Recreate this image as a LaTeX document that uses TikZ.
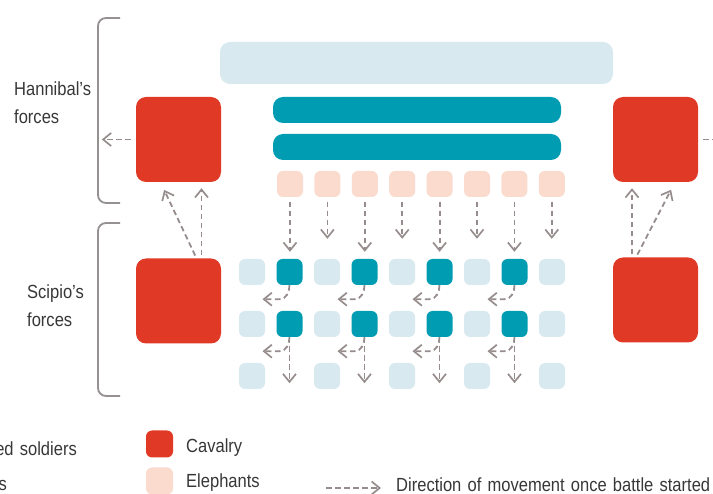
\documentclass[tikz,border=0pt]{standalone}
\usepackage{fontspec}
\setmainfont{Liberation Sans}[FakeStretch=0.87, WordSpace=1.35]
\usetikzlibrary{arrows.meta}

\definecolor{cavred}{RGB}{224,58,38}
\definecolor{infteal}{RGB}{0,157,178}
\definecolor{paleblue}{RGB}{217,233,240}
\definecolor{elepink}{RGB}{250,219,205}
\definecolor{movegray}{RGB}{150,140,140}
\definecolor{bracegray}{RGB}{150,145,145}
\definecolor{ink}{RGB}{55,55,55}

\tikzset{
  lbl/.style={font=\fontsize{19pt}{22pt}\selectfont, text=ink, inner sep=0pt},
  unit/.style={rectangle, rounded corners=6pt, minimum size=26pt, inner sep=0pt, draw=none},
  cav/.style={rectangle, rounded corners=10pt, minimum width=85pt, minimum height=85pt,
    inner sep=0pt, fill=cavred},
  bar/.style={rectangle, rounded corners=10pt, inner sep=0pt},
  move/.style={draw=movegray, line width=1.8pt, dash pattern=on 5.5pt off 3.5pt,
    -{Straight Barb[length=8pt,width=13pt,line width=1.7pt]}},
  brace/.style={draw=bracegray, line width=1.8pt, rounded corners=8pt},
}

\begin{document}
\begin{tikzpicture}[x=1pt,y=-1pt]
\useasboundingbox (0,0) rectangle (713,494);
\clip (0,0) rectangle (713,494);

% brackets grouping the two armies
\draw[brace] (120,18) -- (98,18) -- (98,203) -- (120,203);
\draw[brace] (120,223) -- (98,223) -- (98,396) -- (120,396);
\node[lbl, anchor=base west] (hname) at (14,96) {Hannibal’s};
\node[lbl, anchor=base west] (hforces) at (14,124) {forces};
\node[lbl, anchor=base west] (sname) at (27,299) {Scipio’s};
\node[lbl, anchor=base west] (sforces) at (27,327) {forces};

% Hannibal's lines
\node[bar, fill=paleblue, minimum width=393pt, minimum height=42pt] (rear) at (416.5,63) {};
\node[bar, fill=infteal, minimum width=288pt, minimum height=26pt] (line1) at (417,110) {};
\node[bar, fill=infteal, minimum width=288pt, minimum height=26pt] (line2) at (417,147) {};
\node[cav] (hl) at (178.5,139.5) {};
\node[cav] (hr) at (655.5,139.5) {};
\foreach \i in {0,...,7}
  \node[unit, fill=elepink] (e\i) at ({290+37.4*\i},184) {};

% Scipio's maniples
\node[cav] (sl) at (178.5,301) {};
\node[cav] (sr) at (655.5,300) {};
\foreach \j in {0,...,8} {
  \ifodd\j
    \node[unit, fill=infteal] (a\j) at ({252+37.5*\j},272) {};
    \node[unit, fill=infteal] (b\j) at ({252+37.5*\j},324) {};
  \else
    \node[unit, fill=paleblue] (a\j) at ({252+37.5*\j},272) {};
    \node[unit, fill=paleblue] (b\j) at ({252+37.5*\j},324) {};
    \node[unit, fill=paleblue] (c\j) at ({252+37.5*\j},376) {};
  \fi
}

% elephants charging
\foreach \i in {0,...,7} {
  \pgfmathtruncatemacro{\j}{\i+1}
  \ifodd\j
    \draw[move, shorten <=4.5pt, shorten >=7pt] (e\i.south) -- (e\i.south |- a\j.north);
  \else
    \draw[move, shorten <=4.5pt, shorten >=20pt] (e\i.south) -- (e\i.south |- a\j.north);
  \fi
}

% maniples stepping aside
\foreach \j in {1,3,5,7} {
  \draw[move] (a\j.south) to[out=-90,in=0] ++(-10,14) -- ++(-17,0);
  \draw[move] (b\j.south) to[out=-90,in=0] ++(-10,14) -- ++(-17,0);
  \draw[move] (b\j.south) -- ++(0,46);
}

% cavalry movements
\draw[move, shorten <=5pt] (hl.west) -- ++(-34,0);
\draw[move, shorten <=5pt] (hr.east) -- ++(34,0);
\draw[move, shorten <=3pt, shorten >=6pt] ([xshift=23pt]sl.north) -- ([xshift=23pt]hl.south);
\draw[move, shorten <=3pt, shorten >=8.5pt] ([xshift=18pt]sl.north) -- ([xshift=-18pt]hl.south);
\draw[move, shorten <=3pt, shorten >=6pt] ([xshift=-23.5pt]sr.north) -- ([xshift=-23.5pt]hr.south);
\draw[move, shorten <=3pt, shorten >=8.5pt] ([xshift=-19.5pt]sr.north) -- ([xshift=19.5pt]hr.south);

% key
\node[lbl, anchor=base east] (key1) at (77,456) {ed soldiers};
\node[lbl, anchor=base east] (key2) at (7,491) {s};
\node[unit, minimum size=27pt, fill=cavred] (kcav) at (159.5,444) {};
\node[lbl, anchor=base west] (kcavt) at (186,453) {Cavalry};
\node[unit, minimum size=27pt, fill=elepink] (kele) at (159.5,481) {};
\node[lbl, anchor=base west] (kelet) at (186,488) {Elephants};
\coordinate (kmv0) at (326,488);
\coordinate (kmv1) at (381,488);
\draw[move] (kmv0) -- (kmv1);
\node[lbl, anchor=base west] (kmvt) at (396,492) {Direction of movement once battle started};
\end{tikzpicture}
\end{document}
